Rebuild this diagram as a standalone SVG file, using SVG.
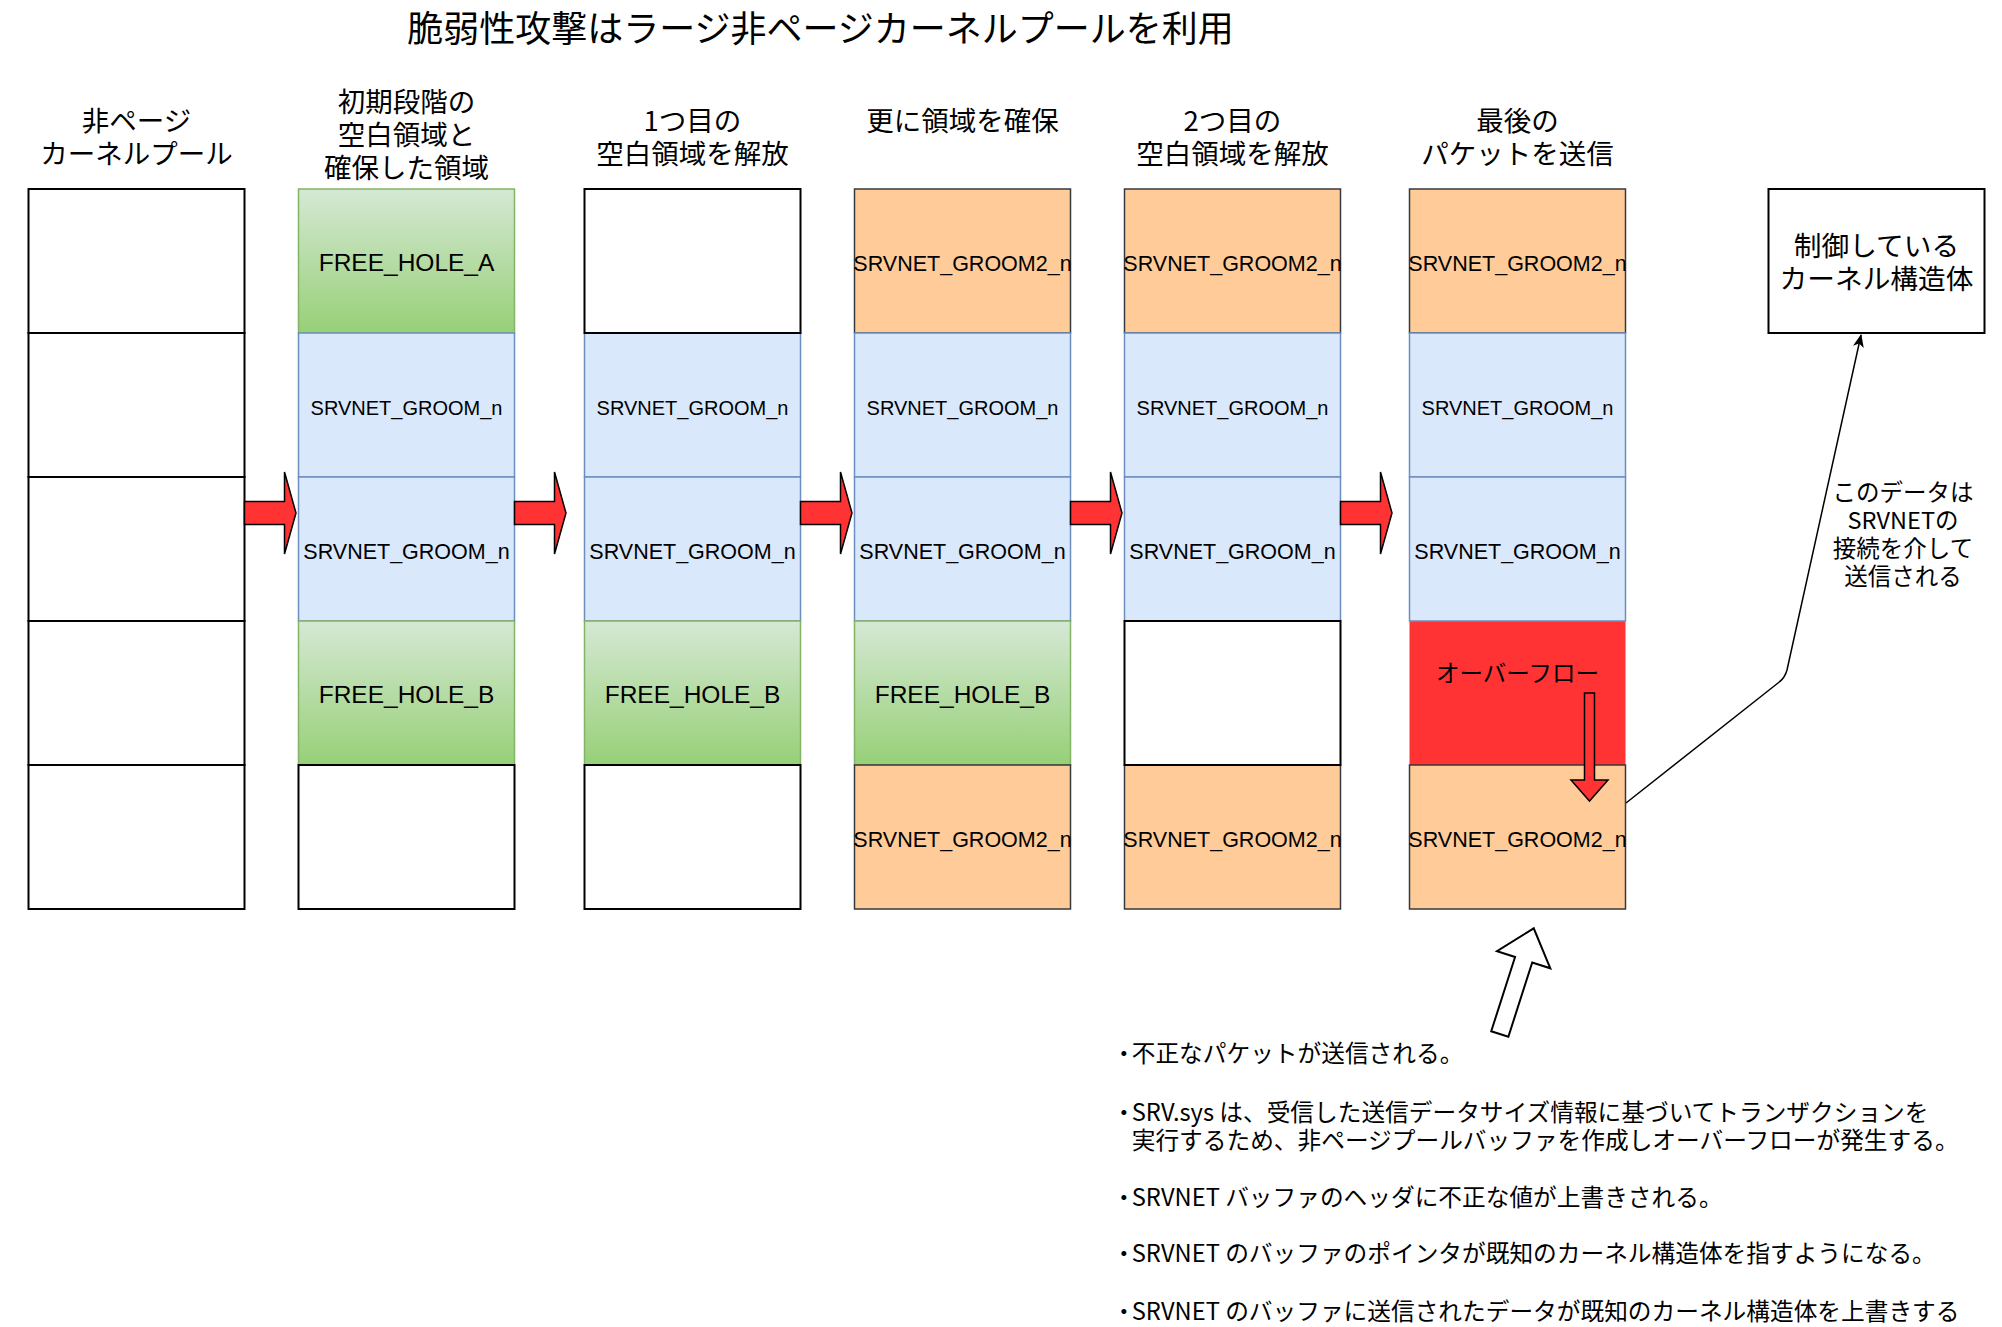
<svg xmlns="http://www.w3.org/2000/svg" width="2002" height="1327" viewBox="0 0 2002 1327">
<style>
.w{fill:#fff;stroke:#000;stroke-width:2}
.b{fill:#dae8fc;stroke:#6c8ebf;stroke-width:1.5}
.o{fill:#ffcc99;stroke:#36393d;stroke-width:1.5}
.g{fill:url(#gr);stroke:#82b366;stroke-width:1.5}
.r{fill:#ff3333;stroke:none}
.lt{font-family:"Liberation Sans",Arial,sans-serif;text-anchor:middle;fill:#000}
.s20{font-size:20px}
.s21{font-size:21.5px}
.s24{font-size:24.5px}
.jp{font-family:"Noto Sans CJK JP","Noto Sans CJK SC",sans-serif;fill:#000}
.hd{font-size:27.5px;text-anchor:middle}
.lbl{font-size:23.5px;text-anchor:middle}
.note{font-size:23.7px}
.fa{fill:#ff3333;stroke:#000;stroke-width:1.5;stroke-linejoin:miter}
</style>
<defs>
<linearGradient id="gr" x1="0" y1="0" x2="0" y2="1">
<stop offset="0" stop-color="#d5e8d4"/>
<stop offset="1" stop-color="#97d077"/>
</linearGradient>
<path id="ra" d="M0,-11.5 H40 V-41 L51.5,0 L40,41 V11.5 H0 Z"/>
<marker id="ah" viewBox="0 0 12 10" refX="11" refY="5" markerWidth="14" markerHeight="11" markerUnits="userSpaceOnUse" orient="auto">
<path d="M0,0 L12,5 L0,10 L3,5 Z" fill="#000"/>
</marker>
</defs>
<rect width="2002" height="1327" fill="#fff"/>
<text class="jp" x="820.5" y="42" font-size="36" text-anchor="middle">脆弱性攻撃はラージ非ページカーネルプールを利用</text>
<g id="headers" class="jp hd">
<text><tspan x="136.5" y="131.3">非ページ</tspan><tspan x="136.5" y="163.8">カーネルプール</tspan></text>
<text><tspan x="406.5" y="112">初期段階の</tspan><tspan x="406.5" y="144.5">空白領域と</tspan><tspan x="406.5" y="177.5">確保した領域</tspan></text>
<text><tspan x="692.5" y="131.3">1つ目の</tspan><tspan x="692.5" y="163.8">空白領域を解放</tspan></text>
<text x="962.5" y="131.3">更に領域を確保</text>
<text><tspan x="1232.5" y="131.3">2つ目の</tspan><tspan x="1232.5" y="163.8">空白領域を解放</tspan></text>
<text><tspan x="1517.5" y="131.3">最後の</tspan><tspan x="1517.5" y="163.8">パケットを送信</tspan></text>
</g>
<g id="c6r4"><rect class="r" x="1409.5" y="621" width="216" height="144"/><text class="jp lbl" x="1517.5" y="681.5">オーバーフロー</text></g>
<g id="c2r1"><rect class="g" x="298.5" y="189" width="216" height="144"/><text class="lt s24" x="406.5" y="271">FREE_HOLE_A</text></g>
<g id="c2r2"><rect class="b" x="298.5" y="333" width="216" height="144"/><text class="lt s20" x="406.5" y="415">SRVNET_GROOM_n</text></g>
<g id="c2r3"><rect class="b" x="298.5" y="477" width="216" height="144"/><text class="lt s21" x="406.5" y="559">SRVNET_GROOM_n</text></g>
<g id="c2r4"><rect class="g" x="298.5" y="621" width="216" height="144"/><text class="lt s24" x="406.5" y="703">FREE_HOLE_B</text></g>
<g id="c3r2"><rect class="b" x="584.5" y="333" width="216" height="144"/><text class="lt s20" x="692.5" y="415">SRVNET_GROOM_n</text></g>
<g id="c3r3"><rect class="b" x="584.5" y="477" width="216" height="144"/><text class="lt s21" x="692.5" y="559">SRVNET_GROOM_n</text></g>
<g id="c3r4"><rect class="g" x="584.5" y="621" width="216" height="144"/><text class="lt s24" x="692.5" y="703">FREE_HOLE_B</text></g>
<g id="c4r1"><rect class="o" x="854.5" y="189" width="216" height="144"/><text class="lt s21" x="962.5" y="270.5">SRVNET_GROOM2_n</text></g>
<g id="c4r2"><rect class="b" x="854.5" y="333" width="216" height="144"/><text class="lt s20" x="962.5" y="415">SRVNET_GROOM_n</text></g>
<g id="c4r3"><rect class="b" x="854.5" y="477" width="216" height="144"/><text class="lt s21" x="962.5" y="559">SRVNET_GROOM_n</text></g>
<g id="c4r4"><rect class="g" x="854.5" y="621" width="216" height="144"/><text class="lt s24" x="962.5" y="703">FREE_HOLE_B</text></g>
<g id="c4r5"><rect class="o" x="854.5" y="765" width="216" height="144"/><text class="lt s21" x="962.5" y="846.7">SRVNET_GROOM2_n</text></g>
<g id="c5r1"><rect class="o" x="1124.5" y="189" width="216" height="144"/><text class="lt s21" x="1232.5" y="270.5">SRVNET_GROOM2_n</text></g>
<g id="c5r2"><rect class="b" x="1124.5" y="333" width="216" height="144"/><text class="lt s20" x="1232.5" y="415">SRVNET_GROOM_n</text></g>
<g id="c5r3"><rect class="b" x="1124.5" y="477" width="216" height="144"/><text class="lt s21" x="1232.5" y="559">SRVNET_GROOM_n</text></g>
<g id="c5r5"><rect class="o" x="1124.5" y="765" width="216" height="144"/><text class="lt s21" x="1232.5" y="846.7">SRVNET_GROOM2_n</text></g>
<g id="c6r1"><rect class="o" x="1409.5" y="189" width="216" height="144"/><text class="lt s21" x="1517.5" y="270.5">SRVNET_GROOM2_n</text></g>
<g id="c6r2"><rect class="b" x="1409.5" y="333" width="216" height="144"/><text class="lt s20" x="1517.5" y="415">SRVNET_GROOM_n</text></g>
<g id="c6r3"><rect class="b" x="1409.5" y="477" width="216" height="144"/><text class="lt s21" x="1517.5" y="559">SRVNET_GROOM_n</text></g>
<g id="c6r5"><rect class="o" x="1409.5" y="765" width="216" height="144"/><text class="lt s21" x="1517.5" y="846.7">SRVNET_GROOM2_n</text></g>
<g id="c1r1"><rect class="w" x="28.5" y="189" width="216" height="144"/></g>
<g id="c1r2"><rect class="w" x="28.5" y="333" width="216" height="144"/></g>
<g id="c1r3"><rect class="w" x="28.5" y="477" width="216" height="144"/></g>
<g id="c1r4"><rect class="w" x="28.5" y="621" width="216" height="144"/></g>
<g id="c1r5"><rect class="w" x="28.5" y="765" width="216" height="144"/></g>
<g id="c2r5"><rect class="w" x="298.5" y="765" width="216" height="144"/></g>
<g id="c3r1"><rect class="w" x="584.5" y="189" width="216" height="144"/></g>
<g id="c3r5"><rect class="w" x="584.5" y="765" width="216" height="144"/></g>
<g id="c5r4"><rect class="w" x="1124.5" y="621" width="216" height="144"/></g>
<g id="kernel"><rect class="w" x="1768.5" y="189" width="216" height="144"/>
<text class="jp" font-size="27.7" text-anchor="middle"><tspan x="1876.5" y="256">制御している</tspan><tspan x="1876.5" y="289">カーネル構造体</tspan></text></g>
<g id="step-arrows">
<use href="#ra" class="fa" transform="translate(244.5,513)"/>
<use href="#ra" class="fa" transform="translate(514.5,513)"/>
<use href="#ra" class="fa" transform="translate(800.5,513)"/>
<use href="#ra" class="fa" transform="translate(1070.5,513)"/>
<use href="#ra" class="fa" transform="translate(1340.5,513)"/>
</g>
<g id="connectors">
<path class="fa" d="M1584.5,693 H1594.5 V780 H1608 L1589.5,801 L1571,780 H1584.5 Z"/>
<path d="M1626,803 L1778,683 Q1785,678 1787,670 L1861,335" fill="none" stroke="#000" stroke-width="1.5" marker-end="url(#ah)"/>
<polygon points="0,-9 78,-9 78,-28 111,0 78,28 78,9 0,9" fill="#fff" stroke="#000" stroke-width="2" stroke-linejoin="miter" transform="translate(1499.8,1034) rotate(-72.2)"/>
</g>
<g id="edge-label" class="jp lbl">
<text><tspan x="1903" y="500.5">このデータは</tspan><tspan x="1903" y="528.5">SRVNETの</tspan><tspan x="1903" y="556.5">接続を介して</tspan><tspan x="1903" y="584.5">送信される</tspan></text>
</g>
<g id="notes" class="jp note">
<text y="1062"><tspan x="1112">・</tspan><tspan x="1131.7">不正なパケットが送信される。</tspan></text>
<text y="1121"><tspan x="1112">・</tspan><tspan x="1131.7">SRV.sys は、受信した送信データサイズ情報に基づいてトランザクションを</tspan><tspan x="1131.7" y="1148.5">実行するため、非ページプールバッファを作成しオーバーフローが発生する。</tspan></text>
<text y="1206"><tspan x="1112">・</tspan><tspan x="1131.7">SRVNET バッファのヘッダに不正な値が上書きされる。</tspan></text>
<text y="1262"><tspan x="1112">・</tspan><tspan x="1131.7">SRVNET のバッファのポインタが既知のカーネル構造体を指すようになる。</tspan></text>
<text y="1320"><tspan x="1112">・</tspan><tspan x="1131.7">SRVNET のバッファに送信されたデータが既知のカーネル構造体を上書きする</tspan></text>
</g>
</svg>
